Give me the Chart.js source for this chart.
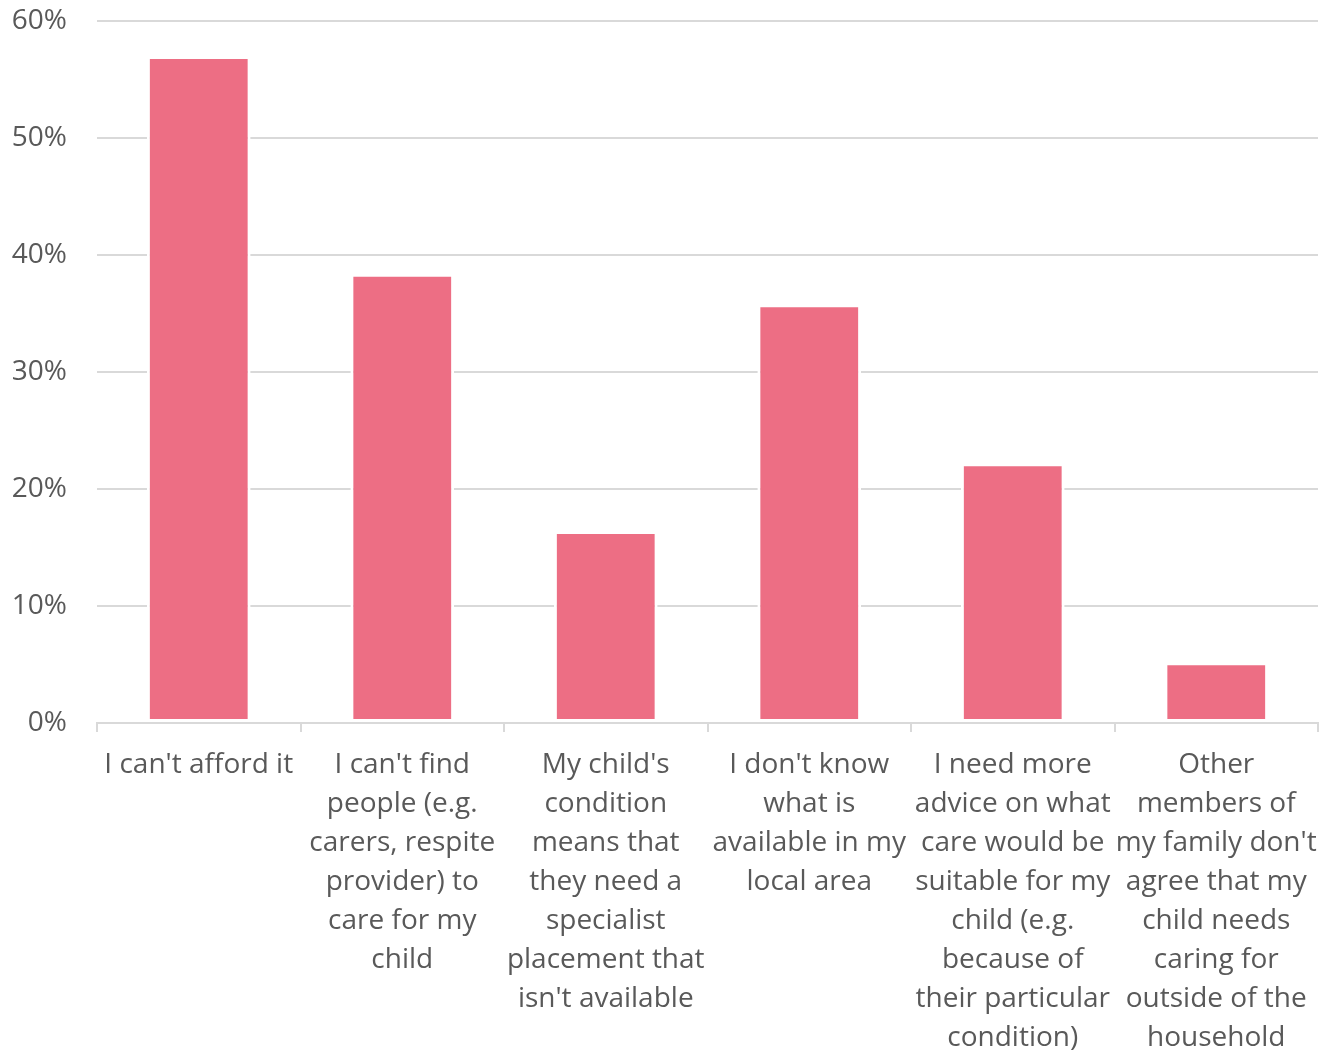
<!DOCTYPE html>
<html>
<head>
<meta charset="utf-8">
<script src="https://cdn.jsdelivr.net/npm/chart.js@4/dist/chart.umd.min.js"></script>
<style>
  html, body { margin:0; padding:0; background:#fff; }
  #wrap { width:1320px; height:1050px; }
</style>
</head>
<body>
<div id="wrap"><canvas id="chart" width="1320" height="1050"></canvas></div>
<script>
// Data
const categories = [
  ["I can't afford it"],
  ["I can't find", "people (e.g.", "carers, respite", "provider) to", "care for my", "child"],
  ["My child's", "condition", "means that", "they need a", "specialist", "placement that", "isn't available"],
  ["I don't know", "what is", "available in my", "local area"],
  ["I need more", "advice on what", "care would be", "suitable for my", "child (e.g.", "because of", "their particular", "condition)"],
  ["Other", "members of", "my family don't", "agree that my", "child needs", "caring for", "outside of the", "household"]
]
const values = [57.0, 38.4, 16.4, 35.8, 22.2, 5.2]
const yTicks = [0, 10, 20, 30, 40, 50, 60]

const TEXT = '#595959'
const GRID = '#d9d9d9'
const FONT = "'Open Sans', 'Noto Sans', sans-serif"

new Chart(document.getElementById('chart'), {
  type: 'bar',
  data: {
    labels: categories,
    datasets: [{
      data: values,
      backgroundColor: '#ED6E84',
      borderColor: '#ffffff',
      borderWidth: 3,
      borderSkipped: false,
      categoryPercentage: 1,
      barPercentage: 0.51
    }]
  },
  options: {
    responsive: false,
    animation: false,
    layout: { padding: { top: 0, right: 2, left: 0, bottom: 0 } },
    plugins: { legend: { display: false }, tooltip: { enabled: false } },
    scales: {
      y: {
        min: 0, max: 60,
        afterBuildTicks: s => { s.ticks = yTicks.map(v => ({ value: v })) },
        afterFit: s => { s.width = 97; s.paddingTop = 21; s.paddingBottom = 0 },
        border: { display: false },
        grid: { color: GRID, lineWidth: 2, drawTicks: false },
        ticks: {
          padding: 30,
          color: TEXT,
          font: { family: FONT, size: 28 },
          callback: v => v + '%'
        }
      },
      x: {
        afterFit: s => { s.height = 327; s.paddingLeft = 0; s.paddingRight = 0 },
        border: { color: GRID, width: 2 },
        grid: { offset: true, drawOnChartArea: false, drawTicks: true, tickLength: 9, color: GRID, lineWidth: 2 },
        ticks: {
          maxRotation: 0, autoSkip: false,
          padding: 14,
          color: TEXT,
          font: { family: FONT, size: 28, lineHeight: 1.393 }
        }
      }
    }
  }
})
</script>
</body>
</html>
